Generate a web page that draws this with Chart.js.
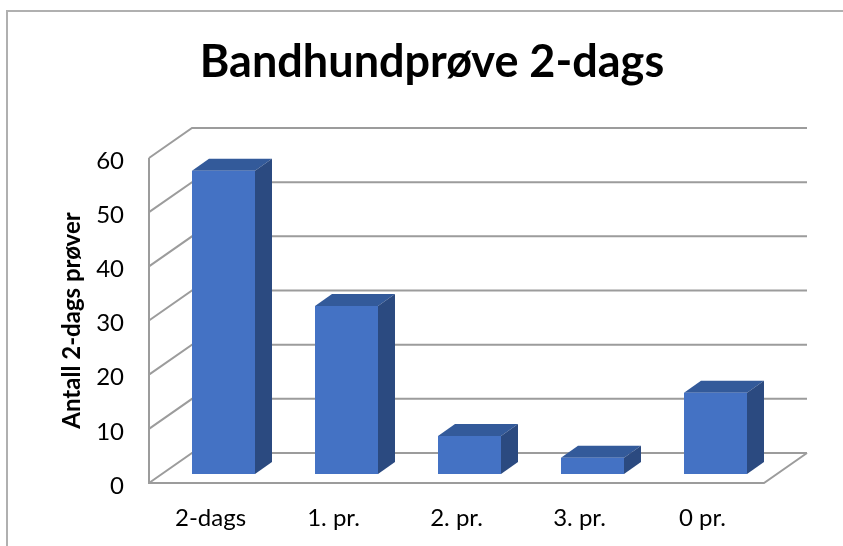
<!DOCTYPE html>
<html>
<head>
<meta charset="utf-8">
<style>html,body{margin:0;padding:0;background:#fff}canvas{display:block}</style>
<script src="https://cdn.jsdelivr.net/npm/chart.js@4"></script>
</head>
<body>
<canvas id="c" width="843" height="546"></canvas>
<script>
const categories = ['2-dags', '1. pr.', '2. pr.', '3. pr.', '0 pr.'];
const seriesValues = [56, 31, 7, 3, 15];
const chartTitle = 'Bandhundprøve 2-dags';
const axisTitle = 'Antall 2-dags prøver';

const WALL = {dx: 43, dy: -30};
const FRONT = {dx: 13, dy: -9};
const SIDE = {dx: 17, dy: -12};
const GRID = '#9c9c9c';

function poly(ctx, pts, fill) {
  ctx.beginPath();
  pts.forEach((p, i) => i ? ctx.lineTo(p[0], p[1]) : ctx.moveTo(p[0], p[1]));
  ctx.closePath();
  ctx.fillStyle = fill;
  ctx.fill();
}

const threeD = {
  id: 'threeD',
  beforeDraw(chart) {
    const ctx = chart.ctx;
    ctx.save();
    ctx.strokeStyle = '#b0b0b0';
    ctx.lineWidth = 2;
    ctx.beginPath();
    ctx.moveTo(7, 546); ctx.lineTo(7, 11); ctx.lineTo(843, 11);
    ctx.stroke();
    ctx.restore();
  },
  beforeDatasetsDraw(chart) {
    const ctx = chart.ctx, y = chart.scales.y, a = chart.chartArea;
    ctx.save();
    ctx.strokeStyle = GRID;
    ctx.lineWidth = 2;
    y.ticks.forEach(t => {
      const py = y.getPixelForValue(t.value);
      ctx.beginPath();
      ctx.moveTo(a.left, py);
      ctx.lineTo(a.left + WALL.dx, py + WALL.dy);
      ctx.lineTo(a.right + WALL.dx, py + WALL.dy);
      ctx.stroke();
    });
    ctx.beginPath();
    ctx.moveTo(a.left, y.getPixelForValue(y.max));
    ctx.lineTo(a.left, y.getPixelForValue(0));
    ctx.lineTo(a.right, y.getPixelForValue(0));
    ctx.lineTo(a.right + WALL.dx, y.getPixelForValue(0) + WALL.dy);
    ctx.stroke();
    ctx.restore();

    ctx.save();
    ctx.translate(FRONT.dx, FRONT.dy);
    chart.getDatasetMeta(0).data.forEach(b => {
      const l = b.x - b.width / 2, r = b.x + b.width / 2;
      poly(ctx, [[l, b.y], [l + SIDE.dx, b.y + SIDE.dy], [r + SIDE.dx, b.y + SIDE.dy], [r, b.y]], '#335A9A');
      poly(ctx, [[r, b.y], [r + SIDE.dx, b.y + SIDE.dy], [r + SIDE.dx, b.base + SIDE.dy], [r, b.base]], '#2B4A80');
    });
  },
  afterDatasetsDraw(chart) {
    chart.ctx.restore();
  }
};

new Chart(document.getElementById('c'), {
  type: 'bar',
  data: {
    labels: categories,
    datasets: [{
      data: seriesValues,
      backgroundColor: '#4472C4',
      borderWidth: 0,
      barPercentage: 63 / 123,
      categoryPercentage: 1
    }]
  },
  options: {
    responsive: false,
    animation: false,
    layout: {padding: {left: 21, right: 0, top: 0, bottom: 0}},
    plugins: {
      legend: {display: false},
      tooltip: {enabled: false},
      title: {
        display: true,
        text: chartTitle,
        color: '#000',
        font: {family: 'Lato', size: 45, weight: 'bold', lineHeight: 1.2},
        padding: {top: 35, bottom: 69}
      }
    },
    scales: {
      x: {
        grid: {display: false, drawTicks: false},
        border: {display: false},
        ticks: {color: '#000', font: {family: 'Lato', size: 24}, padding: 21, maxRotation: 0},
        afterFit(s) { s.height = 63; }
      },
      y: {
        min: 0, max: 60,
        grid: {display: false, drawTicks: false},
        border: {display: false},
        ticks: {stepSize: 10, color: '#000', font: {family: 'Lato', size: 24}, padding: 25, labelOffset: 3},
        title: {
          display: true, text: axisTitle, color: '#000',
          font: {family: 'Lato', size: 24, weight: 'bold'},
          padding: {top: 37, bottom: 0}
        },
        afterFit(s) { s.width = 128; }
      },
      r: {
        type: 'linear', position: 'right',
        grid: {display: false, drawTicks: false},
        border: {display: false},
        ticks: {display: false},
        afterFit(s) { s.width = 79; }
      }
    }
  },
  plugins: [threeD]
});
</script>
</body>
</html>
